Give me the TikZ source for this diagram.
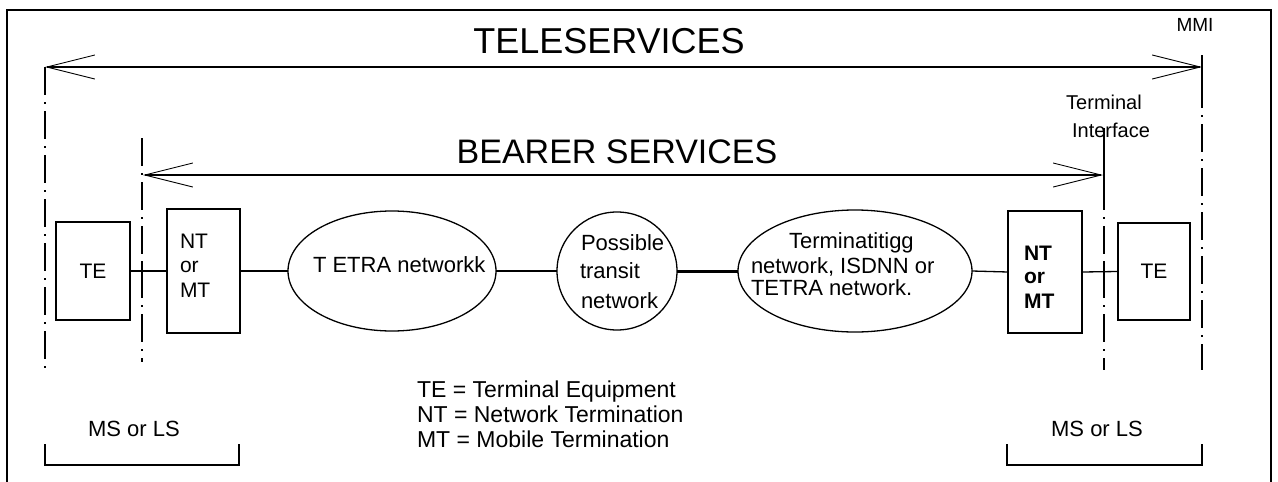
\documentclass[tikz,border=0pt]{standalone}
\usepackage{fontspec}
\setmainfont{Liberation Sans}
\usetikzlibrary{arrows.meta,shapes.geometric}
\newcommand\fsz[1]{\fontsize{#1}{#1}\selectfont}
\begin{document}
\begin{tikzpicture}[x=1pt,y=-1pt,
  frame/.style={line width=1.5pt},
  box/.style={draw, line width=1.3pt, inner sep=0pt, outer sep=0pt},
  netw/.style={draw, ellipse, line width=1.3pt, inner sep=0pt, outer sep=0pt},
  conn/.style={line width=1.3pt},
  thickconn/.style={line width=3pt},
  dashdot/.style={line width=1.2pt, dash pattern=on 28pt off 7pt on 2pt off 7pt},
  barb/.style={line width=1.8pt,
    {Straight Barb[length=48pt,width=24pt,line width=0.9pt]}-{Straight Barb[length=48pt,width=24pt,line width=0.9pt]}},
  lbl/.style={inner sep=0pt, outer sep=0pt}]
\useasboundingbox (0,0) rectangle (1278,482);
\fill[white] (0,0) rectangle (1278,482);
% frame
\draw[frame] (7,482) -- (7,10) -- (1271,10) -- (1271,482);

% service spans
\coordinate (tl) at (45,67);
\coordinate (tr) at (1202,67);
\coordinate (bl) at (143,175);
\coordinate (br) at (1103,175);
\draw[barb] (tl) -- (tr);
\draw[barb] (bl) -- (br);

% interface lines
\draw[dashdot] (45,67) -- (45,370);
\draw[conn] (1202,55) -- (1202,80);
\draw[dashdot] (1202,80) -- (1202,370);
\draw[dashdot] (142,138) -- (142,362);
\draw[conn] (1104,128) -- (1104,182);
\draw[dashdot] (1104,182) -- (1104,370);

% titles
\node[lbl, anchor=base] (tele) at (609,53) {\fsz{36}TELESERVICES};
\node[lbl, anchor=base] (bear) at (617,163) {\fsz{34}BEARER SERVICES};
\node[lbl, anchor=base] (mmi) at (1195,31) {\fsz{19}MMI};
\node[lbl, anchor=base] (ti1) at (1104,109) {\fsz{20}Terminal};
\node[lbl, anchor=base] (ti2) at (1111,137) {\fsz{20}Interface};

% boxes and networks
\node[box, minimum width=74pt, minimum height=98pt] (te1) at (93,271) {};
\node[box, minimum width=73pt, minimum height=124pt] (nt1) at (203.5,271) {};
\node[netw, minimum width=208pt, minimum height=120pt] (tetra) at (392,271) {};
\node[netw, minimum width=120pt, minimum height=118pt] (transit) at (617,271) {};
\node[netw, minimum width=234pt, minimum height=122pt] (term) at (855,271) {};
\node[box, minimum width=74pt, minimum height=122pt] (nt2) at (1045,272) {};
\node[box, minimum width=72pt, minimum height=97pt] (te2) at (1154,271.5) {};

% connectors
\draw[conn] (te1.east) -- (nt1.west);
\draw[conn] (nt1.east) -- (tetra.west);
\draw[conn] (tetra.east) -- (transit.west);
\draw[thickconn] (transit.east) -- (term.west);
\draw[conn] (term.east) -- (nt2.west);
\draw[conn] (nt2.east) -- (te2.west);
\draw[conn] (142,262) -- (142,282);
\draw[conn] (1104,262) -- (1104,284);

% box texts
\node[lbl] (te1t) at (te1.center) {\fsz{21}TE};
\node[lbl, anchor=base west] (nt1a) at (180,248) {\fsz{21}NT};
\node[lbl, anchor=base west] (nt1b) at (180,272) {\fsz{21}or};
\node[lbl, anchor=base west] (nt1c) at (180,297) {\fsz{21}MT};
\node[lbl, anchor=base west] (nt2a) at (1024,260) {\fsz{21}\bfseries NT};
\node[lbl, anchor=base west] (nt2b) at (1024,283) {\fsz{21}\bfseries or};
\node[lbl, anchor=base west] (nt2c) at (1024,308) {\fsz{21}\bfseries MT};
\node[lbl] (te2t) at (te2.center) {\fsz{21}TE};

% network texts
\node[lbl, anchor=base west] (tetrat) at (313,272) {\fsz{22}T ETRA networkk};
\node[lbl, anchor=base west] (tr1) at (581,250) {\fsz{22}Possible};
\node[lbl, anchor=base west] (tr2) at (580,278) {\fsz{22}transit};
\node[lbl, anchor=base west] (tr3) at (581,308) {\fsz{22}network};
\node[lbl, anchor=base west] (tm1) at (789,248) {\fsz{22}Terminatitigg};
\node[lbl, anchor=base west] (tm2) at (751,273) {\fsz{22}network, ISDNN or};
\node[lbl, anchor=base west] (tm3) at (751,295) {\fsz{22}TETRA network.};

% legend
\node[lbl, anchor=base west] (lg1) at (417,397) {\fsz{23}TE = Terminal Equipment};
\node[lbl, anchor=base west] (lg2) at (417,422) {\fsz{23}NT = Network Termination};
\node[lbl, anchor=base west] (lg3) at (417,447) {\fsz{23}MT = Mobile Termination};

% MS or LS brackets
\node[lbl, anchor=base] (ms1) at (134,436) {\fsz{22}MS or LS};
\node[lbl, anchor=base] (ms2) at (1097,436) {\fsz{22}MS or LS};
\draw[conn] (45,444) -- (45,465) -- (239,465) -- (239,444);
\draw[conn] (1007,444) -- (1007,465) -- (1202,465) -- (1202,444);
\end{tikzpicture}
\end{document}
